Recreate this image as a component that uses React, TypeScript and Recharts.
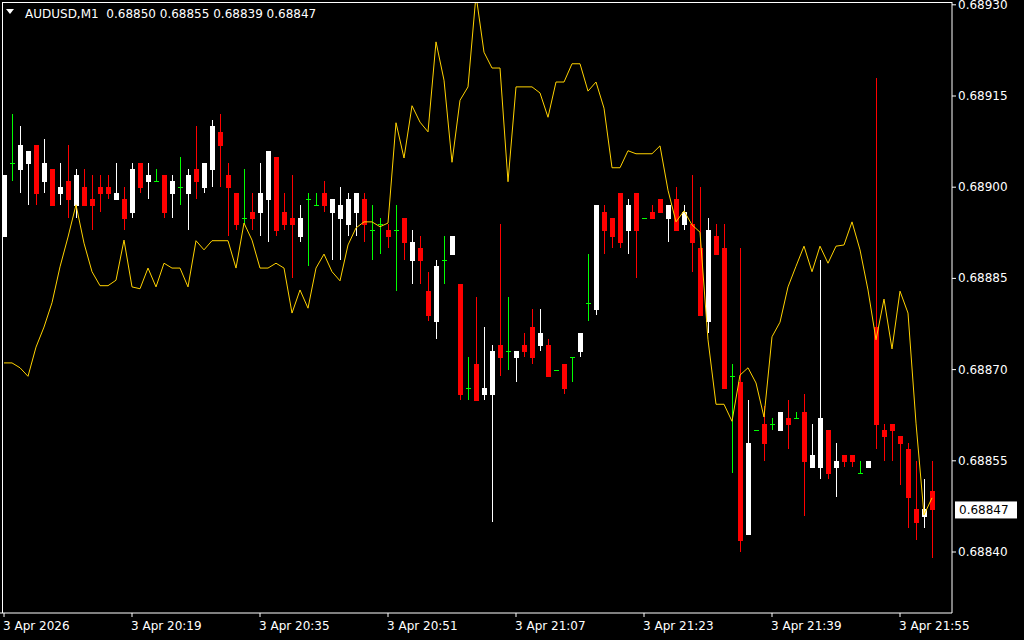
import { ComposedChart, Bar, Line, XAxis, YAxis, ReferenceLine } from 'recharts';

// AUDUSD M1 bars, 20:03 .. 21:59
const open = [
  0.68892, 0.68904, 0.68903, 0.68904, 0.68907, 0.68901, 0.68903, 0.68899, 0.68901, 0.68897,
  0.68900, 0.68898, 0.68900, 0.68900, 0.68898, 0.68898, 0.68896, 0.68904, 0.68901, 0.68901,
  0.68902, 0.68899, 0.68900, 0.68899, 0.68903, 0.68900, 0.68903, 0.68909, 0.68902, 0.68899,
  0.68895, 0.68896, 0.68896, 0.68898, 0.68905, 0.68896, 0.68895, 0.68892, 0.68898, 0.68897,
  0.68899, 0.68896, 0.68895, 0.68894, 0.68896, 0.68898, 0.68893, 0.68894, 0.68893, 0.68893,
  0.68895, 0.68888, 0.68890, 0.68883, 0.68878, 0.68888, 0.68889, 0.68884, 0.68867, 0.68871,
  0.68866, 0.68866, 0.68874, 0.68873, 0.68872, 0.68874, 0.68877, 0.68874, 0.68874, 0.68870,
  0.68871, 0.68872, 0.68873, 0.68881, 0.68880, 0.68896, 0.68895, 0.68899, 0.68893, 0.68899,
  0.68895, 0.68896, 0.68898, 0.68895, 0.68898, 0.68894, 0.68894, 0.68890, 0.68878, 0.68892,
  0.68890, 0.68869, 0.68868, 0.68843, 0.68860, 0.68861, 0.68861, 0.68860, 0.68862, 0.68862,
  0.68863, 0.68854, 0.68854, 0.68860, 0.68854, 0.68856, 0.68856, 0.68853, 0.68854, 0.68877,
  0.68860, 0.68861, 0.68859, 0.68857, 0.68847, 0.68846, 0.68850,
];
const high = [
  0.68902, 0.68912, 0.68910, 0.68906, 0.68907, 0.68908, 0.68903, 0.68904, 0.68907, 0.68903,
  0.68903, 0.68902, 0.68902, 0.68902, 0.68904, 0.68900, 0.68904, 0.68904, 0.68904, 0.68903,
  0.68902, 0.68902, 0.68905, 0.68903, 0.68910, 0.68904, 0.68911, 0.68912, 0.68904, 0.68899,
  0.68903, 0.68899, 0.68904, 0.68906, 0.68905, 0.68899, 0.68902, 0.68897, 0.68899, 0.68899,
  0.68901, 0.68898, 0.68900, 0.68899, 0.68899, 0.68899, 0.68897, 0.68895, 0.68894, 0.68897,
  0.68895, 0.68893, 0.68892, 0.68886, 0.68888, 0.68892, 0.68892, 0.68884, 0.68872, 0.68882,
  0.68877, 0.68874, 0.68894, 0.68882, 0.68873, 0.68876, 0.68880, 0.68880, 0.68875, 0.68870,
  0.68871, 0.68872, 0.68876, 0.68889, 0.68897, 0.68897, 0.68895, 0.68899, 0.68898, 0.68899,
  0.68895, 0.68897, 0.68898, 0.68897, 0.68900, 0.68897, 0.68902, 0.68900, 0.68895, 0.68894,
  0.68894, 0.68871, 0.68890, 0.68865, 0.68860, 0.68864, 0.68862, 0.68863, 0.68865, 0.68863,
  0.68866, 0.68861, 0.68888, 0.68860, 0.68858, 0.68856, 0.68856, 0.68855, 0.68855, 0.68918,
  0.68861, 0.68861, 0.68859, 0.68858, 0.68855, 0.68852, 0.68855,
];
const low = [
  0.68892, 0.68901, 0.68899, 0.68897, 0.68897, 0.68899, 0.68897, 0.68897, 0.68895, 0.68895,
  0.68897, 0.68893, 0.68896, 0.68898, 0.68898, 0.68893, 0.68895, 0.68899, 0.68898, 0.68901,
  0.68895, 0.68895, 0.68897, 0.68893, 0.68898, 0.68899, 0.68900, 0.68900, 0.68892, 0.68893,
  0.68894, 0.68893, 0.68892, 0.68891, 0.68892, 0.68893, 0.68885, 0.68891, 0.68887, 0.68897,
  0.68896, 0.68888, 0.68888, 0.68892, 0.68892, 0.68891, 0.68888, 0.68889, 0.68890, 0.68883,
  0.68888, 0.68884, 0.68884, 0.68878, 0.68875, 0.68884, 0.68889, 0.68865, 0.68865, 0.68865,
  0.68865, 0.68845, 0.68869, 0.68870, 0.68868, 0.68872, 0.68871, 0.68873, 0.68869, 0.68870,
  0.68866, 0.68868, 0.68872, 0.68878, 0.68879, 0.68889, 0.68890, 0.68890, 0.68889, 0.68885,
  0.68895, 0.68895, 0.68896, 0.68891, 0.68893, 0.68893, 0.68886, 0.68879, 0.68876, 0.68889,
  0.68867, 0.68853, 0.68840, 0.68843, 0.68860, 0.68855, 0.68860, 0.68860, 0.68857, 0.68862,
  0.68846, 0.68854, 0.68852, 0.68852, 0.68849, 0.68854, 0.68854, 0.68853, 0.68854, 0.68857,
  0.68855, 0.68855, 0.68851, 0.68844, 0.68842, 0.68844, 0.68839,
];
const close = [
  0.68902, 0.68904, 0.68907, 0.68906, 0.68899, 0.68904, 0.68897, 0.68900, 0.68898, 0.68902,
  0.68897, 0.68897, 0.68899, 0.68899, 0.68899, 0.68895, 0.68903, 0.68900, 0.68902, 0.68901,
  0.68896, 0.68901, 0.68900, 0.68902, 0.68901, 0.68904, 0.68910, 0.68907, 0.68900, 0.68894,
  0.68895, 0.68895, 0.68899, 0.68906, 0.68893, 0.68894, 0.68894, 0.68895, 0.68898, 0.68897,
  0.68897, 0.68898, 0.68897, 0.68898, 0.68899, 0.68894, 0.68893, 0.68894, 0.68892, 0.68893,
  0.68891, 0.68891, 0.68888, 0.68879, 0.68887, 0.68888, 0.68892, 0.68866, 0.68867, 0.68865,
  0.68867, 0.68873, 0.68872, 0.68873, 0.68873, 0.68873, 0.68872, 0.68876, 0.68869, 0.68870,
  0.68867, 0.68872, 0.68876, 0.68881, 0.68897, 0.68893, 0.68892, 0.68891, 0.68897, 0.68893,
  0.68895, 0.68895, 0.68896, 0.68897, 0.68893, 0.68896, 0.68891, 0.68879, 0.68893, 0.68889,
  0.68867, 0.68869, 0.68842, 0.68858, 0.68860, 0.68858, 0.68861, 0.68863, 0.68861, 0.68862,
  0.68855, 0.68856, 0.68862, 0.68853, 0.68855, 0.68855, 0.68855, 0.68853, 0.68855, 0.68861,
  0.68859, 0.68860, 0.68858, 0.68849, 0.68845, 0.68847, 0.68847,
];
// yellow overlay line
const overlay = [
  0.688711, 0.688711, 0.688703, 0.688689, 0.688737, 0.688770, 0.688810, 0.688869, 0.688918, 0.688971,
  0.688908, 0.688861, 0.688838, 0.688838, 0.688847, 0.688913, 0.688836, 0.688833, 0.688867, 0.688836,
  0.688875, 0.688867, 0.688867, 0.688836, 0.688912, 0.688897, 0.688912, 0.688912, 0.688912, 0.688867,
  0.688941, 0.688913, 0.688867, 0.688867, 0.688875, 0.688867, 0.688793, 0.688831, 0.688801, 0.688867,
  0.688890, 0.688861, 0.688846, 0.688905, 0.688933, 0.688943, 0.688943, 0.688935, 0.688941, 0.689106,
  0.689048, 0.689134, 0.689107, 0.689091, 0.689239, 0.689176, 0.689041, 0.689143, 0.689165, 0.689316,
  0.689222, 0.689196, 0.689196, 0.689009, 0.689165, 0.689165, 0.689165, 0.689155, 0.689115, 0.689173,
  0.689173, 0.689203, 0.689203, 0.689158, 0.689173, 0.689130, 0.689032, 0.689032, 0.689060, 0.689055,
  0.689055, 0.689055, 0.689068, 0.688995, 0.688943, 0.688961, 0.688938, 0.688926, 0.688749, 0.688643,
  0.688643, 0.688615, 0.688691, 0.688703, 0.688678, 0.688622, 0.688754, 0.688778, 0.688836, 0.688870,
  0.688903, 0.688861, 0.688903, 0.688875, 0.688903, 0.688905, 0.688943, 0.688897, 0.688831, 0.688749,
  0.688816, 0.688734, 0.688829, 0.688793, 0.688612, 0.688461, 0.688489,
];

const timeTicks = ['20:03', '20:19', '20:35', '20:51', '21:07', '21:23', '21:39', '21:55'];
const timeTickLabels = ['3 Apr 2026', '3 Apr 20:19', '3 Apr 20:35', '3 Apr 20:51', '3 Apr 21:07', '3 Apr 21:23', '3 Apr 21:39', '3 Apr 21:55'];
const priceTicks = [0.6884, 0.68855, 0.6887, 0.68885, 0.689, 0.68915, 0.6893];

const FONT = 'DejaVu Sans';
const BULL = '#ffffff';
const BEAR = '#ff0000';
const DOJI = '#00ff00';

const times = open.map((_, i) => {
  const m = 20 * 60 + 3 + i;
  return `${Math.floor(m / 60)}:${String(m % 60).padStart(2, '0')}`;
});

const data = times.map((t, i) => ({
  time: t,
  open: open[i],
  high: high[i],
  low: low[i],
  close: close[i],
  overlay: overlay[i],
}));

const last = data[data.length - 1];

function Candle(props: any) {
  const { x, y, width, height, payload } = props;
  const { open: o, high: h, low: l, close: c } = payload;
  const k = h > l ? height / (h - l) : 0;
  const py = (p: number) => Math.round(y + (h - p) * k);
  const cx = Math.round(x + width / 2);
  const top = py(h);
  const bot = py(l);
  if (o === c) {
    return (
      <g shapeRendering="crispEdges">
        <rect x={cx - 1} y={top} width={1} height={Math.max(1, bot - top)} fill={DOJI} />
        <rect x={cx - 3} y={py(o)} width={5} height={1} fill={DOJI} />
      </g>
    );
  }
  const color = c > o ? BULL : BEAR;
  const bt = py(Math.max(o, c));
  const bb = py(Math.min(o, c));
  return (
    <g shapeRendering="crispEdges">
      <rect x={cx - 1} y={top} width={1} height={Math.max(1, bot - top)} fill={color} />
      <rect x={cx - 3} y={bt} width={5} height={Math.max(1, bb - bt + 1)} fill={color} />
    </g>
  );
}

function TimeTick({ x, y, payload }: any) {
  const idx = timeTicks.indexOf(payload.value);
  return (
    <text x={x - 1} y={y + 11} fill="#ffffff" fontSize={12} fontFamily={FONT} textAnchor="start">
      {idx >= 0 ? timeTickLabels[idx] : payload.value}
    </text>
  );
}

function PriceTick({ x, y, payload }: any) {
  return (
    <text x={x} y={y + 4} fill="#ffffff" fontSize={12} fontFamily={FONT} textAnchor="start">
      {payload.value.toFixed(5)}
    </text>
  );
}

function PriceTag({ viewBox }: any) {
  if (!viewBox) return null;
  const px = viewBox.x + viewBox.width + 3;
  const py = viewBox.y;
  return (
    <g>
      <rect x={px} y={py - 8} width={62} height={17} fill="#ffffff" />
      <text x={px + 4} y={py + 4.5} fill="#000000" fontSize={12} fontFamily={FONT}>
        {last.close.toFixed(5)}
      </text>
    </g>
  );
}

export default function App() {
  return (
    <div style={{ position: 'absolute', left: 0, top: 0, width: 1024, height: 640, background: '#000000' }}>
      <ComposedChart width={1024} height={640} data={data} margin={{ top: 2, right: 0, bottom: 0, left: 0 }}>
        <XAxis
          dataKey="time"
          ticks={timeTicks}
          interval={0}
          height={27}
          padding={{ left: 0, right: 16 }}
          stroke="#ffffff"
          tickSize={4}
          tick={<TimeTick />}
        />
        <YAxis
          orientation="right"
          width={72}
          domain={[0.6882997, 0.6893046]}
          allowDataOverflow
          ticks={priceTicks}
          interval={0}
          stroke="#ffffff"
          tickSize={4}
          tick={<PriceTick />}
        />
        <Bar
          dataKey={(d: any) => [d.low, d.high]}
          barSize={5}
          shape={<Candle />}
          isAnimationActive={false}
        />
        <Line
          type="linear"
          dataKey="overlay"
          stroke="#ffd200"
          strokeWidth={1}
          dot={false}
          activeDot={false}
          isAnimationActive={false}
        />
        <ReferenceLine y={last.close} stroke="none" label={<PriceTag />} />
      </ComposedChart>
      <svg width={1024} height={640} style={{ position: 'absolute', left: 0, top: 0, pointerEvents: 'none' }}>
        <line x1={2.5} y1={2} x2={2.5} y2={613} stroke="#ffffff" />
        <line x1={2} y1={2.5} x2={952} y2={2.5} stroke="#ffffff" />
        <polygon points="6,9 14,9 10,14" fill="#ffffff" />
        <text x={25} y={18} fill="#ffffff" fontSize={12} fontFamily={FONT} style={{ whiteSpace: 'pre' }}>
          {`AUDUSD,M1  ${last.open.toFixed(5)} ${last.high.toFixed(5)} ${last.low.toFixed(5)} ${last.close.toFixed(5)}`}
        </text>
      </svg>
    </div>
  );
}
